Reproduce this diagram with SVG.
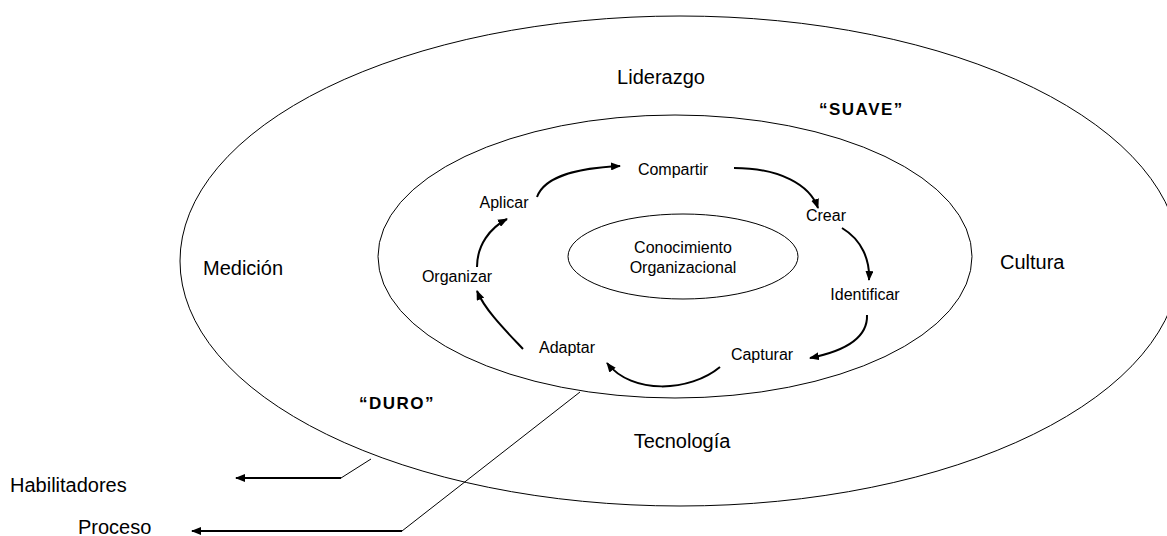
<svg xmlns="http://www.w3.org/2000/svg" width="1167" height="536" viewBox="0 0 1167 536">
  <style>
    .ring { fill: none; stroke: #000; stroke-width: 1; }
    .lbl { font-family: "Liberation Sans", Arial, sans-serif; fill: #000; }
    .big { font-size: 20px; }
    .step { font-size: 16px; text-anchor: middle; }
    .tag { font-size: 17px; font-weight: bold; letter-spacing: 1.5px; }
    .flow { fill: none; stroke: #000; stroke-width: 2; marker-end: url(#head); }
    .lead { fill: none; stroke: #000; stroke-width: 1; }
    .leadArrow { fill: none; stroke: #000; stroke-width: 2; marker-end: url(#head); }
  </style>
  <defs>
    <marker id="head" markerUnits="userSpaceOnUse" markerWidth="10" markerHeight="8" refX="9" refY="4" orient="auto">
      <path d="M0,0 L10,4 L0,8 z" fill="#000"/>
    </marker>
  </defs>
  <rect width="1167" height="536" fill="#fff"/>

  <!-- outer ring: enablers -->
  <g id="habilitadores">
    <ellipse class="ring" cx="680" cy="261" rx="500" ry="245"/>
    <text class="lbl big" x="661" y="84" text-anchor="middle">Liderazgo</text>
    <text class="lbl big" x="203" y="275">Medición</text>
    <text class="lbl big" x="1000" y="269">Cultura</text>
    <text class="lbl big" x="682" y="448" text-anchor="middle">Tecnología</text>
    <text class="lbl tag" x="819" y="115">“SUAVE”</text>
    <text class="lbl tag" x="359" y="409">“DURO”</text>
  </g>

  <!-- middle ring: process -->
  <g id="proceso">
    <ellipse class="ring" cx="675" cy="256.5" rx="297" ry="141.5"/>
  </g>

  <!-- core -->
  <g id="conocimiento">
    <ellipse class="ring" cx="683" cy="256.5" rx="115" ry="42.5"/>
    <text class="lbl step" x="683" y="253">Conocimiento</text>
    <text class="lbl step" x="683" y="273">Organizacional</text>
  </g>

  <!-- process steps -->
  <g id="step-compartir"><text class="lbl step" x="673" y="175">Compartir</text></g>
  <g id="step-crear"><text class="lbl step" x="826" y="221">Crear</text></g>
  <g id="step-identificar"><text class="lbl step" x="865" y="300">Identificar</text></g>
  <g id="step-capturar"><text class="lbl step" x="762" y="360">Capturar</text></g>
  <g id="step-adaptar"><text class="lbl step" x="567" y="353">Adaptar</text></g>
  <g id="step-organizar"><text class="lbl step" x="457" y="282">Organizar</text></g>
  <g id="step-aplicar"><text class="lbl step" x="504" y="208">Aplicar</text></g>

  <!-- side labels -->
  <g id="label-habilitadores"><text class="lbl big" x="10" y="492">Habilitadores</text></g>
  <g id="label-proceso"><text class="lbl big" x="78" y="534">Proceso</text></g>

  <g id="connectors">
    <!-- cycle -->
    <path class="flow" d="M537,197 C545,175 580,168 620,166"/>
    <path class="flow" d="M734,168 C780,168 810,185 818,208"/>
    <path class="flow" d="M842,228 C862,240 870,260 869,280"/>
    <path class="flow" d="M867,315 C868,340 840,352 810,358"/>
    <path class="flow" d="M720,367 C690,392 632,395 607,363"/>
    <path class="flow" d="M523,349 C505,330 485,310 477,291"/>
    <path class="flow" d="M477,267 C477,245 490,228 507,219"/>
    <!-- callouts -->
    <path class="lead" d="M371,459 L341,478"/>
    <path class="leadArrow" d="M341,478 L236,478"/>
    <path class="lead" d="M580,392 L402,531"/>
    <path class="leadArrow" d="M402,531 L192,531"/>
  </g>
</svg>
